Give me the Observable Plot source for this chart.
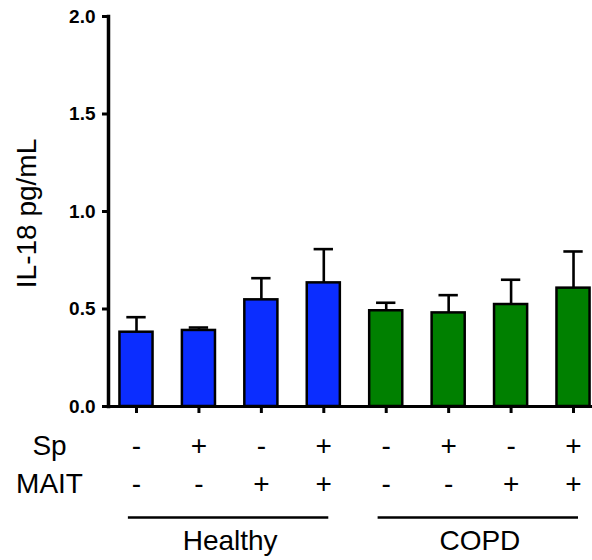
<!DOCTYPE html>
<html>
<head>
<meta charset="utf-8">
<script src="https://cdn.jsdelivr.net/npm/d3@7"></script>
<script src="https://cdn.jsdelivr.net/npm/@observablehq/plot@0.6"></script>
<style>
  html, body { margin: 0; padding: 0; background: #fff; }
  svg { font-family: Arial, "Liberation Sans", sans-serif; }
</style>
</head>
<body>
<div id="chart"></div>
<script>
// ---- data ----
const groupOf = ["Healthy","Healthy","Healthy","Healthy","COPD","COPD","COPD","COPD"];
const spSign   = ["-","+","-","+","-","+","-","+"];
const maitSign = ["-","-","+","+","-","-","+","+"];
const means = [0.381, 0.390, 0.547, 0.634, 0.491, 0.480, 0.523, 0.607];
const sems  = [0.077, 0.015, 0.111, 0.173, 0.041, 0.091, 0.127, 0.188];
const groupNames = ["Healthy", "COPD"];
const groupColors = ["#0b2dff", "#008000"];
const rowLabels = ["Sp", "MAIT"];
const yTicks = [0, 0.5, 1.0, 1.5, 2.0];
const yLabel = "IL-18 pg/mL";

const bars = means.map((m, i) => ({
  i, mean: m, sem: sems[i], group: groupOf[i], sp: spSign[i], mait: maitSign[i]
}));
const groups = groupNames.map(g => {
  const idx = bars.filter(b => b.group === g).map(b => b.i);
  return { name: g, first: d3.min(idx), last: d3.max(idx) };
});

const halfBar = 0.265, halfCap = 0.155;
const rowOffset = { Sp: 40, MAIT: 78 };

const chart = Plot.plot({
  width: 592,
  height: 560,
  marginLeft: 108,
  marginRight: 0,
  marginTop: 16,
  marginBottom: 154,
  style: { fontFamily: "Arial, 'Liberation Sans', sans-serif", color: "#000", background: "#fff" },
  x: { type: "linear", domain: [-0.4485, 7.304], axis: null },
  y: { domain: [0, 2], axis: null },
  color: { domain: groupNames, range: groupColors },
  marks: [
    // error bars
    Plot.ruleX(bars, { x: "i", y1: "mean", y2: d => d.mean + d.sem, stroke: "#000", strokeWidth: 2.6 }),
    Plot.ruleY(bars, { x1: d => d.i - halfCap, x2: d => d.i + halfCap, y: d => d.mean + d.sem, stroke: "#000", strokeWidth: 2.6 }),
    // bars
    Plot.rectY(bars, { x1: d => d.i - halfBar, x2: d => d.i + halfBar, y1: 0, y2: "mean", fill: "group", stroke: "#000", strokeWidth: 2.5 }),
    // y axis ticks + bold labels
    Plot.axisY({ ticks: yTicks, tickFormat: () => "", tickSize: 6, strokeWidth: 3, label: null }),
    Plot.text(yTicks, { y: d => d, frameAnchor: "left", dx: -13, textAnchor: "end", text: d => d3.format(".1f")(d), fontSize: 19, fontWeight: "bold" }),
    Plot.frame({ anchor: "left", strokeWidth: 3.5 }),
    Plot.ruleY([0], { strokeWidth: 3 }),
    // x ticks at bar centres
    Plot.axisX({ ticks: bars.map(b => b.i), tickFormat: () => "", tickSize: 7, strokeWidth: 3, label: null }),
    // y label
    Plot.text([yLabel], { frameAnchor: "left", textAnchor: "middle", lineAnchor: "middle", rotate: -90, dx: -81, dy: 2, fontSize: 28, text: d => d }),
    // sign rows
    Plot.text(bars, { x: "i", y: 0, dy: rowOffset.Sp, text: "sp", fontSize: 28 }),
    Plot.text(bars, { x: "i", y: 0, dy: rowOffset.MAIT, text: "mait", fontSize: 28 }),
    Plot.text([rowLabels[0]], { frameAnchor: "bottom-left", textAnchor: "middle", lineAnchor: "middle", dx: -59, dy: rowOffset.Sp, text: d => d, fontSize: 28 }),
    Plot.text([rowLabels[1]], { frameAnchor: "bottom-left", textAnchor: "middle", lineAnchor: "middle", dx: -59, dy: rowOffset.MAIT, text: d => d, fontSize: 28 }),
    // group underlines and names
    Plot.ruleY(groups, { x1: d => d.first - 0.13, x2: d => d.last + 0.08, y: 0, dy: 111, stroke: "#000", strokeWidth: 2.5 }),
    Plot.text(groups, { x: d => (d.first + d.last) / 2, y: 0, dy: 135, text: "name", fontSize: 28 })
  ]
});
document.getElementById("chart").appendChild(chart);
</script>
</body>
</html>
